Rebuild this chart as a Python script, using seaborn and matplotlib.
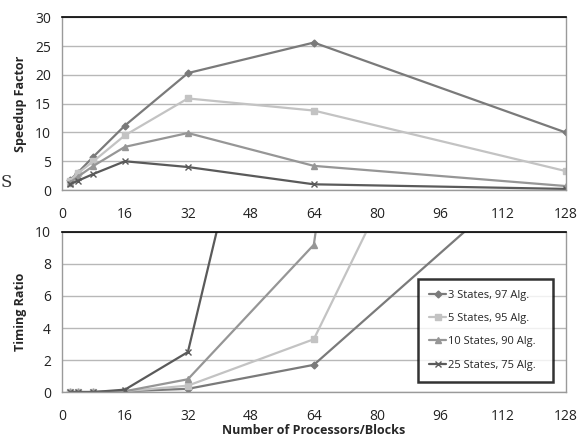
import pandas as pd
import matplotlib
matplotlib.use("Agg")
import matplotlib.pyplot as plt
import seaborn as sns

# Data
procs = [2, 4, 8, 16, 32, 64, 128]
series_names = ["3 States, 97 Alg.", "5 States, 95 Alg.", "10 States, 90 Alg.", "25 States, 75 Alg."]

speedup_3 = [1.7, 3.0, 5.8, 11.2, 20.3, 25.6, 10.0]
speedup_5 = [1.6, 2.9, 5.0, 9.5, 15.9, 13.8, 3.3]
speedup_10 = [1.3, 2.3, 4.2, 7.5, 9.9, 4.2, 0.7]
speedup_25 = [1.0, 1.6, 2.8, 5.0, 4.0, 1.0, 0.2]

timing_3 = [0.0, 0.0, 0.0, 0.05, 0.2, 1.7, 15.6]
timing_5 = [0.0, 0.0, 0.0, 0.05, 0.4, 3.3, 35.5]
timing_10 = [0.0, 0.0, 0.0, 0.05, 0.8, 9.2, 120.0]
timing_25 = [0.0, 0.0, 0.0, 0.15, 2.5, 35.4, 100.0]

colors = ["#7a7a7a", "#c3c3c3", "#969696", "#5a5a5a"]
markers = ["D", "s", "^", "x"]
msizes = [3.5, 5, 5, 5]

speedup = [speedup_3, speedup_5, speedup_10, speedup_25]
timing = [timing_3, timing_5, timing_10, timing_25]

sns.set_style("white")
plt.rcParams["font.family"] = ["Open Sans", "DejaVu Sans"]

fig = plt.figure(figsize=(5.79, 4.41), dpi=100)
ax1 = fig.add_axes([0.107, 0.569, 0.870, 0.392])
ax2 = fig.add_axes([0.107, 0.111, 0.870, 0.363])


def style_axis(ax, ymax, ystep, ylabel):
    ax.set_xlim(0, 128)
    ax.set_ylim(0, ymax)
    ax.set_xticks(range(0, 129, 16))
    ax.set_yticks(range(0, ymax + 1, ystep))
    ax.yaxis.grid(True, color="#b8b8b8", linewidth=1)
    ax.set_axisbelow(True)
    for s in ["left", "bottom", "right"]:
        ax.spines[s].set_color("#9a9a9a")
        ax.spines[s].set_linewidth(1)
    ax.spines["top"].set_color("black")
    ax.spines["top"].set_linewidth(1.2)
    ax.tick_params(axis="both", direction="out", length=4, color="#9a9a9a",
                   labelsize=10, labelcolor="#222222", pad=4)
    ax.tick_params(axis="x", pad=8)
    ax.set_ylabel(ylabel, fontsize=9, fontweight="bold", labelpad=6)
    ax.set_xlabel("")


for vals, name, c, m, ms in zip(speedup, series_names, colors, markers, msizes):
    df = pd.DataFrame({"procs": procs, "value": vals})
    sns.lineplot(data=df, x="procs", y="value", ax=ax1, color=c, marker=m,
                 markersize=ms, markeredgecolor=c, markeredgewidth=1,
                 linewidth=1.6, label=name, legend=False)

for vals, name, c, m, ms in zip(timing, series_names, colors, markers, msizes):
    df = pd.DataFrame({"procs": procs, "value": vals})
    sns.lineplot(data=df, x="procs", y="value", ax=ax2, color=c, marker=m,
                 markersize=ms, markeredgecolor=c, markeredgewidth=1,
                 linewidth=1.6, label=name, legend=False)

style_axis(ax1, 30, 5, "Speedup Factor")
style_axis(ax2, 10, 2, "Timing Ratio")
ax2.set_xlabel("Number of Processors/Blocks", fontsize=9, fontweight="bold", labelpad=0)

handles, labels = ax2.get_legend_handles_labels()
leg = ax2.legend(handles, labels, loc="lower left", bbox_to_anchor=(0.695, 0.03, 0.29, 0.69),
                 mode="expand", fontsize=8, frameon=True, fancybox=False,
                 handlelength=1.6, handletextpad=0.1, labelspacing=1.1,
                 borderpad=1.0)
leg.get_frame().set_edgecolor("black")
leg.get_frame().set_linewidth(1.8)

# stray glyph visible at the left edge of the original
fig.text(0.001, 0.577, "S", fontsize=12, family="DejaVu Serif", color="#333333")

fig.savefig("out.png", dpi=100)
